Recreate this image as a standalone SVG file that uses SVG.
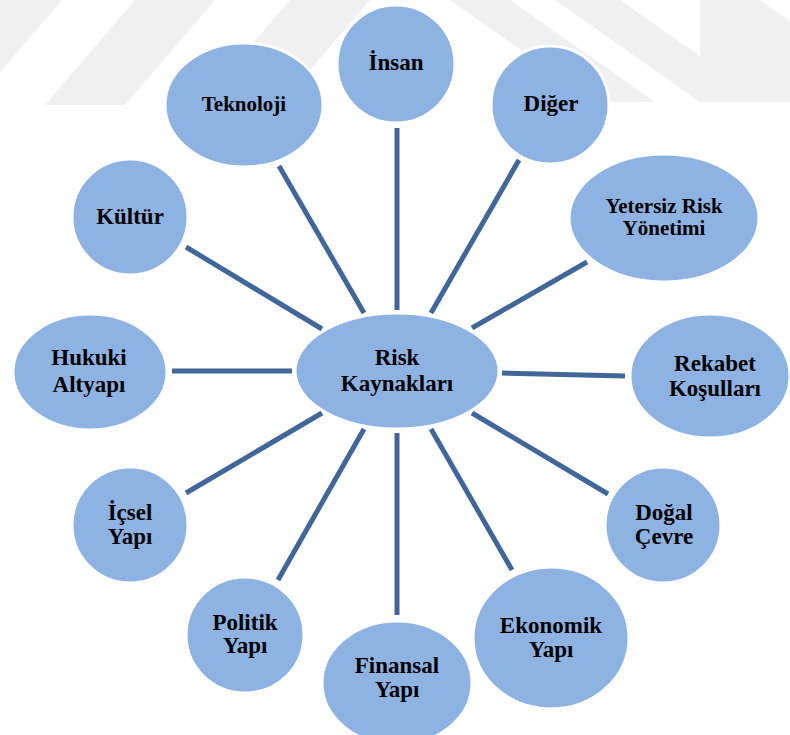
<svg xmlns="http://www.w3.org/2000/svg" width="790" height="735" viewBox="0 0 790 735">
<style>
.wm{fill:#f0f0f0}
.node ellipse{fill:#8eb3e2;stroke:#ffffff;stroke-width:3}
.node text{font-family:"Liberation Serif","Times New Roman",serif;font-weight:bold;font-size:23px;fill:#000;text-anchor:middle}
.node text.sm{font-size:21px}
#connectors line{stroke:#41669a;stroke-width:5}
</style>
<rect width="790" height="735" fill="#ffffff"/>
<g id="watermark">
<polygon class="wm" points="0,0 62,0 0,72"/>
<polygon class="wm" points="135,0 215,0 125,105 45,105"/>
<polygon class="wm" points="290,0 370,0 280,105 200,105"/>
<polygon class="wm" points="450,0 510,0 655,102 595,102"/>
<polygon class="wm" points="555,0 620,0 765,102 700,102"/>
<polygon class="wm" points="700,0 760,0 790,21 790,102 760,102 700,60"/>
</g>
<g id="connectors">
<line x1="397" y1="128" x2="397" y2="310"/>
<line x1="279" y1="166" x2="364" y2="313"/>
<line x1="519" y1="160" x2="431" y2="313"/>
<line x1="186" y1="247" x2="322" y2="329"/>
<line x1="587" y1="262" x2="472" y2="328"/>
<line x1="172" y1="371" x2="292" y2="371"/>
<line x1="502" y1="373" x2="625" y2="376"/>
<line x1="322" y1="413" x2="186" y2="493"/>
<line x1="364" y1="429" x2="278" y2="580"/>
<line x1="397" y1="433" x2="397" y2="615"/>
<line x1="431" y1="429" x2="512" y2="570"/>
<line x1="472" y1="413" x2="608" y2="494"/>
</g>
<g id="center" class="node"><ellipse cx="397" cy="371" rx="102" ry="58"/><text x="397" y="365">Risk</text><text x="397" y="391">Kaynakları</text></g>
<g id="insan" class="node"><ellipse cx="396" cy="64" rx="59" ry="59"/><text x="396" y="70">İnsan</text></g>
<g id="teknoloji" class="node"><ellipse cx="244" cy="105" rx="79" ry="62"/><text class="sm" x="244" y="111">Teknoloji</text></g>
<g id="diger" class="node"><ellipse cx="550" cy="105" rx="59" ry="59"/><text x="551" y="111">Diğer</text></g>
<g id="kultur" class="node"><ellipse cx="130" cy="217" rx="58" ry="58"/><text x="130" y="224">Kültür</text></g>
<g id="yetersiz" class="node"><ellipse cx="664" cy="218" rx="95" ry="64"/><text class="sm" x="664" y="213">Yetersiz Risk</text><text class="sm" x="664" y="235">Yönetimi</text></g>
<g id="hukuki" class="node"><ellipse cx="90" cy="372" rx="77" ry="58"/><text x="89" y="365">Hukuki</text><text x="89" y="392">Altyapı</text></g>
<g id="rekabet" class="node"><ellipse cx="710" cy="376" rx="80" ry="62"/><text x="715" y="371">Rekabet</text><text x="715" y="396">Koşulları</text></g>
<g id="icsel" class="node"><ellipse cx="130" cy="525" rx="58" ry="58"/><text x="130" y="520">İçsel</text><text x="130" y="544">Yapı</text></g>
<g id="dogal" class="node"><ellipse cx="663" cy="525" rx="58" ry="58"/><text x="664" y="520">Doğal</text><text x="664" y="544">Çevre</text></g>
<g id="politik" class="node"><ellipse cx="245" cy="635" rx="59" ry="58"/><text x="245" y="630">Politik</text><text x="245" y="653">Yapı</text></g>
<g id="finansal" class="node"><ellipse cx="397" cy="683" rx="75" ry="62"/><text x="397" y="673">Finansal</text><text x="397" y="697">Yapı</text></g>
<g id="ekonomik" class="node"><ellipse cx="551" cy="638" rx="78" ry="71"/><text x="551" y="633">Ekonomik</text><text x="551" y="657">Yapı</text></g>
</svg>
